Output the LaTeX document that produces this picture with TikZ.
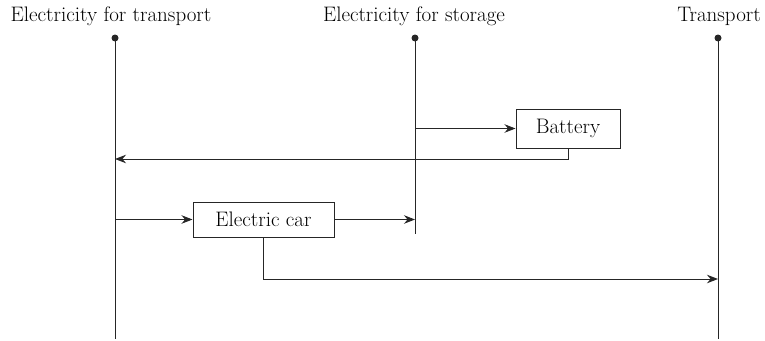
\documentclass[tikz,border=0pt]{standalone}
\usetikzlibrary{arrows.meta}
\begin{document}
\begin{tikzpicture}[x=1pt, y=-1pt]
% Flow diagram, coordinates in px of the sketch (y grows downwards)
\providecommand{\flowLineColor}{black!85}
\providecommand{\flowLineWidth}{1pt}
\providecommand{\flowDotRadius}{3.5pt}
\providecommand{\flowFont}{\fontsize{21}{25}\selectfont}
\tikzset{
  busline/.style={draw=\flowLineColor, line width=\flowLineWidth},
  busdot/.style={fill=\flowLineColor},
  buslabel/.style={font=\flowFont, anchor=base, inner sep=0pt},
  flowbox/.style={draw=\flowLineColor, line width=\flowLineWidth, font=\flowFont, inner sep=0pt},
  flowarrow/.style={draw=\flowLineColor, line width=\flowLineWidth, -{Stealth[length=11pt, width=8.5pt]}}
}
\useasboundingbox (0,0) rectangle (765,340);
% Buses
\coordinate (transTop) at (115,38);
\coordinate (transBot) at (115,339);
\coordinate (storeTop) at (415,38);
\coordinate (storeBot) at (415,234);
\coordinate (portTop) at (718,38);
\coordinate (portBot) at (718,339);
\node[buslabel] (transLabel) at (111,21) {Electricity for transport};
\node[buslabel] (storeLabel) at (414,21) {Electricity for storage};
\node[buslabel] (portLabel) at (719,21) {Transport};
\begin{scope}[busline]
  \draw (transTop) -- (transBot);
  \draw (storeTop) -- (storeBot);
  \draw (portTop) -- (portBot);
\end{scope}
\begin{scope}[busdot]
  \fill (transTop) circle (\flowDotRadius);
  \fill (storeTop) circle (\flowDotRadius);
  \fill (portTop) circle (\flowDotRadius);
\end{scope}
% Boxes
\node[flowbox, minimum width=104pt, minimum height=39pt] (battery) at (568,128.5) {Battery};
\node[flowbox, minimum width=141pt, minimum height=35pt] (car) at (263.5,219.5) {Electric car};
% Flows
\coordinate (backIn) at (115,159);
\coordinate (portIn) at (718,279);
\draw[flowarrow] (storeTop |- battery.west) -- (battery.west);
\draw[flowarrow] (battery.south) |- (backIn);
\draw[flowarrow] (transTop |- car.west) -- (car.west);
\draw[flowarrow] (car.east) -- (storeTop |- car.east);
\draw[flowarrow] (car.south) |- (portIn);
\end{tikzpicture}
\end{document}
